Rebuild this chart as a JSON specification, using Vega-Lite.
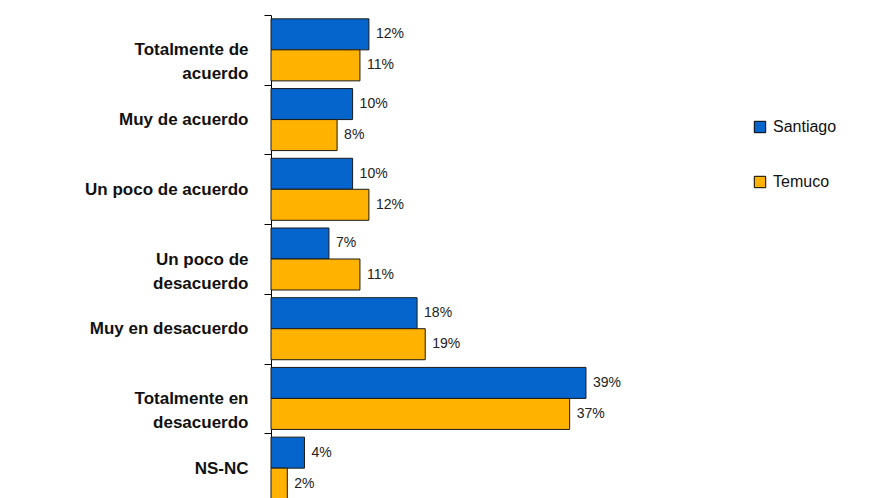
{
  "$schema": "https://vega.github.io/schema/vega-lite/v6.json",
  "width": 408,
  "height": 488,
  "autosize": {"type": "none"},
  "padding": {"left": 271, "top": 15, "right": 191, "bottom": 0},
  "background": "white",
  "config": {"view": {"stroke": null}},
  "data": {
    "values": [
      {"category": "Totalmente de acuerdo", "city": "Santiago", "value": 0.120},
      {"category": "Totalmente de acuerdo", "city": "Temuco", "value": 0.109},
      {"category": "Muy de acuerdo", "city": "Santiago", "value": 0.100},
      {"category": "Muy de acuerdo", "city": "Temuco", "value": 0.081},
      {"category": "Un poco de acuerdo", "city": "Santiago", "value": 0.100},
      {"category": "Un poco de acuerdo", "city": "Temuco", "value": 0.120},
      {"category": "Un poco de desacuerdo", "city": "Santiago", "value": 0.071},
      {"category": "Un poco de desacuerdo", "city": "Temuco", "value": 0.109},
      {"category": "Muy en desacuerdo", "city": "Santiago", "value": 0.179},
      {"category": "Muy en desacuerdo", "city": "Temuco", "value": 0.189},
      {"category": "Totalmente en desacuerdo", "city": "Santiago", "value": 0.386},
      {"category": "Totalmente en desacuerdo", "city": "Temuco", "value": 0.366},
      {"category": "NS-NC", "city": "Santiago", "value": 0.041},
      {"category": "NS-NC", "city": "Temuco", "value": 0.020}
    ]
  },
  "encoding": {
    "y": {
      "field": "category",
      "type": "nominal",
      "sort": null,
      "scale": {"paddingInner": 0, "paddingOuter": 0},
      "axis": {
        "title": null,
        "tickBand": "extent",
        "tickSize": 7,
        "tickColor": "#000",
        "domainColor": "#000",
        "labelPadding": 16,
        "labelFont": "Liberation Sans",
        "labelFontWeight": "bold",
        "labelFontSize": 17,
        "labelColor": "#111",
        "labelLineHeight": 24,
        "labelLimit": 300,
        "labelExpr": "datum.label == 'Totalmente de acuerdo' ? ['Totalmente de', 'acuerdo'] : datum.label == 'Un poco de desacuerdo' ? ['Un poco de', 'desacuerdo'] : datum.label == 'Totalmente en desacuerdo' ? ['Totalmente en', 'desacuerdo'] : datum.label"
      }
    },
    "yOffset": {
      "field": "city",
      "type": "nominal",
      "sort": ["Santiago", "Temuco"],
      "scale": {"paddingInner": 0, "paddingOuter": 0.124}
    },
    "x": {
      "field": "value",
      "type": "quantitative",
      "scale": {"domain": [0, 0.5]},
      "axis": null
    }
  },
  "layer": [
    {
      "mark": {"type": "bar", "stroke": "#1a1a1a", "strokeWidth": 1},
      "encoding": {
        "color": {
          "field": "city",
          "type": "nominal",
          "scale": {"domain": ["Santiago", "Temuco"], "range": ["#0565CC", "#FFB200"]},
          "legend": {
            "title": null,
            "orient": "none",
            "legendX": 481,
            "legendY": 104,
            "padding": 0,
            "symbolType": "square",
            "symbolSize": 130,
            "symbolStrokeColor": "#000",
            "symbolStrokeWidth": 1,
            "labelFont": "Liberation Sans",
            "labelFontSize": 16,
            "labelColor": "#111",
            "labelOffset": 5,
            "rowPadding": 39
          }
        }
      }
    },
    {
      "mark": {
        "type": "text",
        "align": "left",
        "baseline": "middle",
        "dx": 7,
        "font": "Liberation Sans",
        "fontSize": 14,
        "color": "#222"
      },
      "encoding": {
        "text": {"field": "value", "type": "quantitative", "format": ".0%"}
      }
    }
  ]
}
